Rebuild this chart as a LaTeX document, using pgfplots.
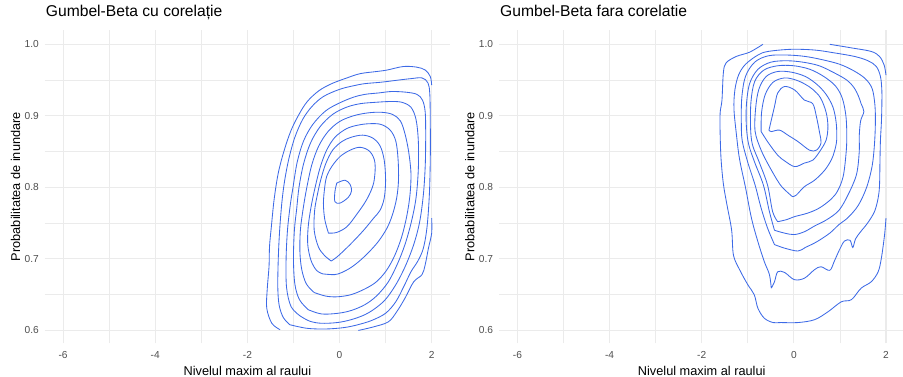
\documentclass[border=0pt]{standalone}
\usepackage{fontspec}
\setmainfont{Liberation Sans}
\usepackage{pgfplots}
\pgfplotsset{compat=1.18}
\definecolor{cblue}{HTML}{3D6AE6}
\definecolor{g92}{HTML}{EBEBEB}
\definecolor{g30}{HTML}{4D4D4D}
\pgfplotsset{
  ggmin/.style={
    scale only axis, width=405.4bp, height=313.3bp,
    xmin=-6.4, xmax=2.4, ymin=0.582, ymax=1.020,
    xtick={-6,-4,-2,0,2}, xticklabels={-6,-4,-2,0,2},
    ytick={0.6,0.7,0.8,0.9,1.0}, yticklabels={0.6,0.7,0.8,0.9,1.0},
    minor xtick={-5,-3,-1,1}, minor ytick={0.65,0.75,0.85,0.95},
    grid=both,
    major grid style={g92, line width=1.07bp},
    minor grid style={g92, line width=0.55bp},
    axis line style={draw=none},
    major tick length=0pt, minor tick length=0pt,
    tick label style={font=\fontsize{10.2}{12}\selectfont, text=g30, inner sep=0pt},
    xticklabel style={anchor=north, yshift=-7.8bp},
    yticklabel style={anchor=east, xshift=-5.7bp},
    label style={font=\fontsize{12.8}{15}\selectfont, inner sep=0pt},
    xlabel style={at={(axis description cs:0.5,-0.1028)}, anchor=base},
    ylabel style={at={(axis description cs:-0.0609,0.5)}, anchor=base},
    title style={font=\fontsize{15.7}{18}\selectfont, at={(axis description cs:0.0025,1.0255)}, anchor=base west, inner sep=0pt, yshift=0pt},
    xlabel={Nivelul maxim al raului},
    ylabel={Probabilitatea de inundare},
  },
  ct/.style={draw=cblue, line width=0.85bp, smooth, tension=0.55, mark=none},
}
\begin{document}
\begin{tikzpicture}
\useasboundingbox (0,0) rectangle (903bp,377bp);
\begin{axis}[ggmin, at={(44.7bp,33.7bp)}, anchor=south west, title={Gumbel-Beta cu corelație}]
% C1 (open pieces)
\addplot[ct] coordinates {(-1.29,0.601) (-1.47,0.610) (-1.58,0.631) (-1.57,0.657) (-1.53,0.690) (-1.52,0.717) (-1.48,0.745) (-1.42,0.783) (-1.33,0.820) (-1.20,0.852) (-1.05,0.880) (-0.88,0.902) (-0.70,0.920) (-0.45,0.935) (-0.17,0.945) (0.16,0.953) (0.45,0.959) (0.81,0.962) (1.03,0.964) (1.39,0.969) (1.68,0.968) (1.86,0.964) (1.97,0.955) (2.00,0.943)};
\addplot[ct] coordinates {(0.41,0.600) (0.74,0.605) (1.06,0.612) (1.24,0.626) (1.42,0.645) (1.61,0.668) (1.79,0.678) (1.86,0.692) (1.93,0.715) (2.00,0.736) (2.00,0.757)};
% C2
\addplot[ct] coordinates {(-1.08,0.608) (-1.22,0.618) (-1.31,0.635) (-1.34,0.660) (-1.33,0.700) (-1.30,0.740) (-1.25,0.780) (-1.19,0.810) (-1.10,0.840) (-0.97,0.870) (-0.80,0.895) (-0.60,0.913) (-0.35,0.927) (0.00,0.937) (0.30,0.942) (0.55,0.945) (0.90,0.947) (1.28,0.950) (1.55,0.952) (1.79,0.953) (1.92,0.946) (1.96,0.930) (1.97,0.890) (1.97,0.840) (1.95,0.790) (1.90,0.745) (1.82,0.715) (1.70,0.697) (1.55,0.682) (1.40,0.662) (1.22,0.640) (1.00,0.624) (0.70,0.614) (0.40,0.608) (0.10,0.604) (-0.30,0.602) (-0.71,0.603) (-1.08,0.608)};
% C3
\addplot[ct] coordinates {(-0.85,0.620) (-1.05,0.633) (-1.15,0.660) (-1.16,0.700) (-1.13,0.740) (-1.07,0.775) (-1.01,0.800) (-0.92,0.835) (-0.78,0.865) (-0.58,0.888) (-0.30,0.907) (0.00,0.918) (0.30,0.926) (0.55,0.930) (0.85,0.932) (1.13,0.934) (1.45,0.933) (1.68,0.930) (1.80,0.922) (1.86,0.905) (1.87,0.870) (1.86,0.830) (1.82,0.790) (1.74,0.752) (1.62,0.722) (1.45,0.693) (1.25,0.667) (1.02,0.645) (0.80,0.632) (0.55,0.622) (0.25,0.615) (-0.05,0.611) (-0.40,0.610) (-0.65,0.613) (-0.85,0.620)};
% C4
\addplot[ct] coordinates {(-0.68,0.629) (-0.87,0.643) (-0.97,0.665) (-1.00,0.700) (-0.98,0.740) (-0.93,0.770) (-0.88,0.800) (-0.78,0.833) (-0.63,0.862) (-0.42,0.885) (-0.15,0.902) (0.15,0.912) (0.45,0.917) (0.80,0.919) (1.10,0.920) (1.35,0.919) (1.55,0.912) (1.66,0.895) (1.71,0.865) (1.71,0.825) (1.66,0.785) (1.56,0.752) (1.42,0.720) (1.25,0.692) (1.05,0.667) (0.80,0.648) (0.55,0.636) (0.26,0.628) (-0.03,0.624) (-0.39,0.623) (-0.68,0.629)};
% C5
\addplot[ct] coordinates {(-0.55,0.653) (-0.72,0.665) (-0.82,0.685) (-0.86,0.710) (-0.85,0.740) (-0.79,0.770) (-0.71,0.800) (-0.60,0.832) (-0.45,0.858) (-0.25,0.878) (0.00,0.892) (0.30,0.900) (0.60,0.904) (0.90,0.905) (1.15,0.902) (1.32,0.893) (1.42,0.875) (1.50,0.850) (1.55,0.820) (1.53,0.790) (1.46,0.760) (1.35,0.731) (1.20,0.705) (1.02,0.684) (0.80,0.668) (0.55,0.658) (0.25,0.650) (-0.05,0.647) (-0.30,0.648) (-0.55,0.653)};
% C6
\addplot[ct] coordinates {(-0.36,0.679) (-0.50,0.684) (-0.62,0.698) (-0.69,0.720) (-0.68,0.745) (-0.62,0.772) (-0.53,0.800) (-0.42,0.828) (-0.28,0.852) (-0.10,0.870) (0.15,0.882) (0.40,0.887) (0.65,0.889) (0.90,0.888) (1.10,0.880) (1.22,0.865) (1.27,0.840) (1.28,0.810) (1.24,0.785) (1.15,0.762) (1.03,0.743) (0.85,0.725) (0.66,0.711) (0.45,0.698) (0.25,0.688) (0.05,0.681) (-0.11,0.678) (-0.36,0.679)};
% C7
\addplot[ct] coordinates {(-0.18,0.697) (-0.33,0.705) (-0.46,0.717) (-0.55,0.740) (-0.54,0.768) (-0.48,0.790) (-0.41,0.810) (-0.30,0.833) (-0.15,0.852) (0.05,0.864) (0.25,0.870) (0.50,0.873) (0.72,0.869) (0.88,0.858) (0.97,0.838) (1.00,0.810) (0.97,0.785) (0.88,0.768) (0.74,0.757) (0.55,0.742) (0.35,0.728) (0.15,0.715) (-0.05,0.703) (-0.18,0.697)};
% C8
\addplot[ct] coordinates {(-0.24,0.736) (-0.32,0.755) (-0.35,0.778) (-0.32,0.801) (-0.28,0.815) (-0.17,0.829) (0.01,0.843) (0.23,0.852) (0.45,0.856) (0.66,0.850) (0.77,0.834) (0.74,0.806) (0.59,0.783) (0.37,0.762) (0.16,0.745) (-0.06,0.737) (-0.24,0.736)};
% C9
\addplot[ct] coordinates {(-0.06,0.806) (0.12,0.810) (0.23,0.804) (0.26,0.795) (0.19,0.786) (0.01,0.778) (-0.10,0.780) (-0.10,0.794) (-0.06,0.806)};
\end{axis}
\begin{axis}[ggmin, at={(499.0bp,33.7bp)}, anchor=south west, title={Gumbel-Beta fara corelatie}]
% C1 (open pieces)
\addplot[ct] coordinates {(-0.67,1.000) (-0.96,0.989) (-1.25,0.983) (-1.47,0.974) (-1.53,0.960) (-1.56,0.922) (-1.60,0.904) (-1.60,0.876) (-1.58,0.840) (-1.53,0.805) (-1.45,0.775) (-1.35,0.740) (-1.31,0.705) (-1.17,0.684) (-1.00,0.664) (-0.86,0.650) (-0.78,0.631) (-0.64,0.617) (-0.45,0.611) (-0.28,0.611) (0.09,0.611) (0.45,0.615) (0.74,0.626) (1.03,0.640) (1.25,0.643) (1.46,0.659) (1.68,0.668) (1.83,0.682) (1.90,0.701) (1.97,0.734) (2.00,0.757)};
\addplot[ct] coordinates {(0.78,1.000) (1.25,0.995) (1.68,0.990) (1.86,0.983) (1.96,0.971) (2.00,0.957)};
% C2
\addplot[ct] coordinates {(-0.49,0.659) (-0.53,0.678) (-0.64,0.696) (-0.78,0.724) (-0.92,0.757) (-1.05,0.800) (-1.18,0.840) (-1.25,0.876) (-1.30,0.910) (-1.28,0.936) (-1.20,0.957) (-1.05,0.972) (-0.78,0.985) (-0.56,0.990) (-0.06,0.993) (0.45,0.992) (0.88,0.988) (1.32,0.983) (1.61,0.977) (1.79,0.969) (1.88,0.955) (1.91,0.936) (1.91,0.913) (1.90,0.890) (1.88,0.866) (1.87,0.838) (1.86,0.803) (1.83,0.785) (1.75,0.766) (1.60,0.750) (1.45,0.738) (1.34,0.728) (1.28,0.716) (1.22,0.726) (1.10,0.725) (1.00,0.714) (0.88,0.697) (0.78,0.684) (0.59,0.689) (0.45,0.685) (0.23,0.673) (0.01,0.671) (-0.20,0.681) (-0.35,0.682) (-0.42,0.668) (-0.49,0.659)};
% C3
\addplot[ct] coordinates {(-0.42,0.720) (-0.57,0.743) (-0.71,0.771) (-0.84,0.803) (-1.00,0.835) (-1.12,0.865) (-1.14,0.890) (-1.13,0.925) (-1.05,0.955) (-0.85,0.975) (-0.55,0.984) (-0.15,0.985) (0.25,0.983) (0.65,0.978) (1.00,0.972) (1.30,0.963) (1.55,0.952) (1.70,0.938) (1.76,0.915) (1.77,0.890) (1.75,0.860) (1.70,0.830) (1.58,0.800) (1.40,0.775) (1.18,0.758) (0.98,0.748) (0.78,0.736) (0.50,0.724) (0.25,0.716) (0.09,0.711) (-0.20,0.715) (-0.42,0.720)};
% C4
\addplot[ct] coordinates {(-0.42,0.740) (-0.53,0.766) (-0.66,0.803) (-0.85,0.835) (-0.98,0.860) (-1.03,0.885) (-1.03,0.915) (-0.96,0.945) (-0.78,0.965) (-0.50,0.975) (-0.15,0.977) (0.20,0.975) (0.55,0.970) (0.88,0.960) (1.15,0.950) (1.30,0.940) (1.40,0.928) (1.46,0.917) (1.52,0.906) (1.45,0.893) (1.42,0.872) (1.42,0.850) (1.36,0.818) (1.18,0.790) (0.98,0.768) (0.72,0.755) (0.45,0.746) (0.23,0.738) (0.01,0.734) (-0.20,0.736) (-0.42,0.740)};
% C5
\addplot[ct] coordinates {(-0.35,0.752) (-0.46,0.766) (-0.57,0.803) (-0.75,0.835) (-0.90,0.860) (-0.94,0.885) (-0.93,0.920) (-0.85,0.948) (-0.65,0.964) (-0.35,0.970) (0.00,0.970) (0.35,0.965) (0.65,0.955) (0.90,0.942) (1.05,0.925) (1.13,0.900) (1.15,0.870) (1.13,0.845) (1.07,0.815) (0.95,0.795) (0.80,0.783) (0.55,0.771) (0.30,0.764) (0.01,0.759) (-0.15,0.755) (-0.35,0.752)};
% C6
\addplot[ct] coordinates {(-0.03,0.787) (-0.17,0.795) (-0.31,0.805) (-0.53,0.829) (-0.71,0.852) (-0.84,0.878) (-0.83,0.910) (-0.76,0.937) (-0.60,0.955) (-0.35,0.962) (-0.05,0.961) (0.25,0.955) (0.50,0.944) (0.70,0.930) (0.85,0.912) (0.92,0.890) (0.93,0.866) (0.88,0.850) (0.81,0.838) (0.67,0.824) (0.45,0.810) (0.23,0.801) (0.05,0.789) (-0.03,0.787)};
% C7
\addplot[ct] coordinates {(-0.71,0.878) (-0.70,0.905) (-0.62,0.930) (-0.45,0.947) (-0.20,0.953) (0.05,0.950) (0.25,0.944) (0.41,0.937) (0.58,0.925) (0.70,0.905) (0.74,0.885) (0.70,0.866) (0.56,0.850) (0.41,0.838) (0.23,0.834) (0.02,0.829) (-0.20,0.837) (-0.35,0.845) (-0.55,0.862) (-0.71,0.878)};
% C8
\addplot[ct] coordinates {(-0.54,0.880) (-0.42,0.913) (-0.35,0.932) (-0.20,0.941) (0.02,0.936) (0.23,0.922) (0.41,0.917) (0.49,0.899) (0.56,0.876) (0.59,0.862) (0.49,0.852) (0.34,0.852) (0.09,0.864) (-0.13,0.873) (-0.31,0.880) (-0.49,0.878) (-0.54,0.880)};
\end{axis}
\end{tikzpicture}
\end{document}
